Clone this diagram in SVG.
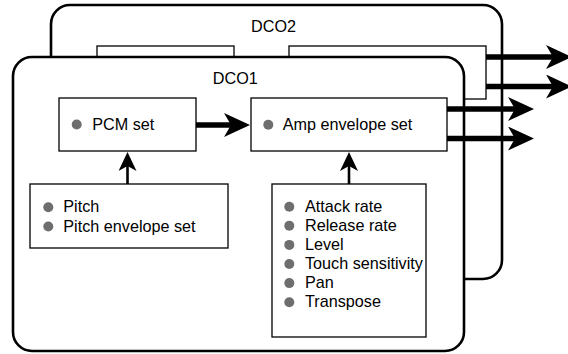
<svg xmlns="http://www.w3.org/2000/svg" width="568" height="354" viewBox="0 0 568 354">
  <style>
    .frame { fill: #ffffff; stroke: #000000; stroke-width: 2.6; }
    .box { fill: #ffffff; stroke: #000000; stroke-width: 1.3; }
    .t { font-family: "Liberation Sans", Arial, Helvetica, sans-serif; font-size: 16.2px; fill: #000000; }
    .title { text-anchor: middle; }
    .dot { fill: #6e6e6e; }
    .thick { stroke: #000000; stroke-width: 5.5; fill: none; marker-end: url(#bigHead); }
    .thin { stroke: #000000; stroke-width: 2.6; fill: none; marker-end: url(#smallHead); }
  </style>
  <defs>
    <marker id="bigHead" viewBox="0 0 26 24" refX="12" refY="12" markerWidth="26" markerHeight="24" markerUnits="userSpaceOnUse" orient="auto">
      <path d="M0,0 L26,12 L0,24 L7,12 Z" fill="#000000"/>
    </marker>
    <marker id="smallHead" viewBox="0 0 19 18" refX="9" refY="9" markerWidth="19" markerHeight="18" markerUnits="userSpaceOnUse" orient="auto">
      <path d="M0,0 L19,9 L0,18 L5,9 Z" fill="#000000"/>
    </marker>
  </defs>

  <!-- DCO2 (behind) -->
  <g id="dco2">
    <rect class="frame" x="51" y="5" width="451" height="274" rx="19" ry="19"/>
    <text class="t title" x="273.5" y="32">DCO2</text>
    <rect class="box" x="97" y="46" width="137" height="53"/>
    <rect class="box" x="289" y="46" width="197" height="53"/>
  </g>

  <g id="dco2-connectors">
    <line class="thick" x1="486" y1="57" x2="558" y2="57"/>
    <line class="thick" x1="486" y1="86.5" x2="558" y2="86.5"/>
  </g>

  <!-- DCO1 (front) -->
  <g id="dco1">
    <rect class="frame" x="13" y="57" width="451" height="294" rx="19" ry="19"/>
    <text class="t title" x="235.3" y="84">DCO1</text>
  </g>

  <g id="pcm-set">
    <rect class="box" x="59" y="98" width="137" height="53"/>
    <circle class="dot" cx="76.7" cy="124.5" r="5"/>
    <text class="t" x="92.3" y="129.6">PCM set</text>
  </g>

  <g id="amp-envelope-set">
    <rect class="box" x="251" y="98" width="196" height="53"/>
    <circle class="dot" cx="268.3" cy="124.8" r="5"/>
    <text class="t" x="282.7" y="129.8">Amp envelope set</text>
  </g>

  <g id="pitch-params">
    <rect class="box" x="30" y="184" width="198" height="64"/>
    <circle class="dot" cx="48.3" cy="207.3" r="5"/>
    <text class="t" x="63.3" y="212.3">Pitch</text>
    <circle class="dot" cx="48.3" cy="226.5" r="5"/>
    <text class="t" x="63.3" y="231.5">Pitch envelope set</text>
  </g>

  <g id="amp-params">
    <rect class="box" x="272" y="184" width="154" height="153"/>
    <circle class="dot" cx="289.3" cy="206.7" r="5"/>
    <text class="t" x="305" y="211.7">Attack rate</text>
    <circle class="dot" cx="289.3" cy="225.8" r="5"/>
    <text class="t" x="305" y="230.8">Release rate</text>
    <circle class="dot" cx="289.3" cy="244.9" r="5"/>
    <text class="t" x="305" y="249.9">Level</text>
    <circle class="dot" cx="289.3" cy="264" r="5"/>
    <text class="t" x="305" y="269">Touch sensitivity</text>
    <circle class="dot" cx="289.3" cy="283.1" r="5"/>
    <text class="t" x="305" y="288.1">Pan</text>
    <circle class="dot" cx="289.3" cy="302.2" r="5"/>
    <text class="t" x="305" y="307.2">Transpose</text>
  </g>

  <g id="connectors">
    <line class="thick" x1="196" y1="125" x2="236" y2="125"/>
    <line class="thick" x1="447" y1="109" x2="520" y2="109"/>
    <line class="thick" x1="447" y1="138.5" x2="520" y2="138.5"/>
    <line class="thin" x1="127.5" y1="184" x2="127.5" y2="162"/>
    <line class="thin" x1="349" y1="184" x2="349" y2="162"/>
  </g>
</svg>
